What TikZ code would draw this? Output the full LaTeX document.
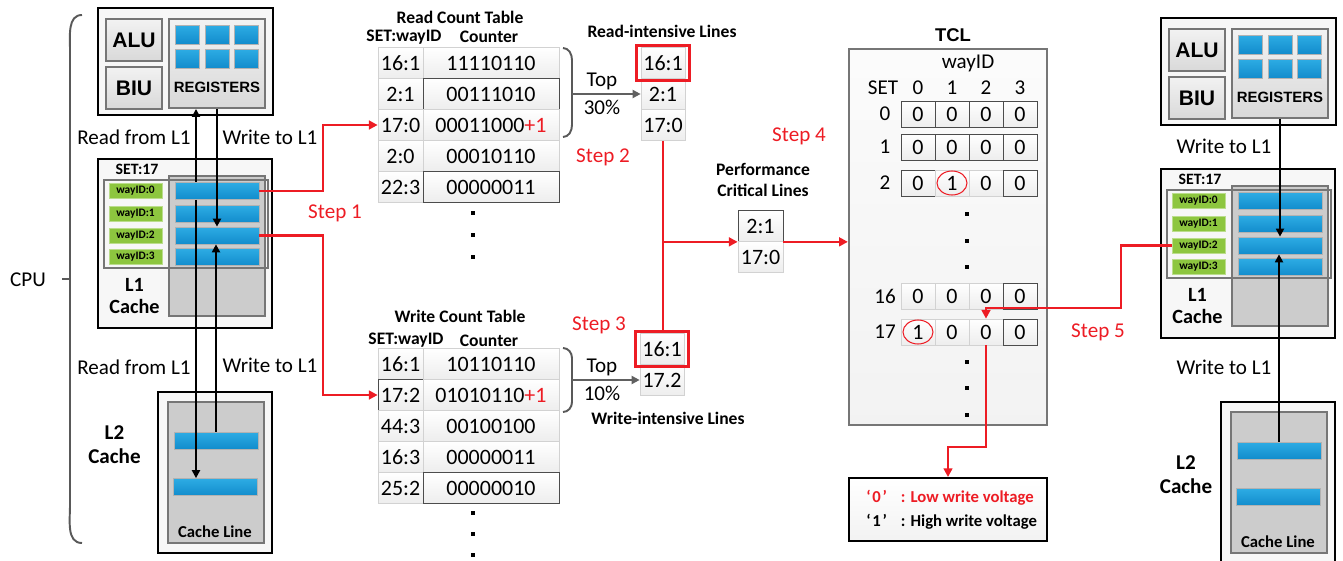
\documentclass[tikz,border=0pt]{standalone}
\usepackage{fontspec}
\setmainfont{Carlito}
\newfontfamily\arialfont{Liberation Sans}
\usetikzlibrary{arrows.meta, positioning, calc, fit}

\definecolor{stepred}{RGB}{237,28,36}
\definecolor{lineblue}{RGB}{45,172,228}
\definecolor{lineblueD}{RGB}{18,140,204}
\definecolor{waygreen}{RGB}{141,198,63}
\definecolor{unitgray}{RGB}{204,204,204}
\definecolor{framegray}{RGB}{118,118,118}

\newlength{\upx}
\setlength{\upx}{0.02cm}
\newcommand{\plusone}{\textcolor{stepred}{+1}}

% one processor: core, L1 set and L2; #1 name prefix, #2/#3 offset
\newcommand{\cpustack}[3]{%
  % core with ALU, BIU and register file
  \node[cpubox, fit={(98+#2,8+#3) (273+#2,115+#3)}] (#1cpu) {};
  \node[unitbox, fit={(106+#2,19+#3) (162+#2,61+#3)}] (#1alu) {};
  \node[unitlabel] (#1alutxt) at (#1alu.center) {ALU};
  \node[unitbox, fit={(106+#2,67+#3) (162+#2,109+#3)}] (#1biu) {};
  \node[unitlabel] (#1biutxt) at (#1biu.center) {BIU};
  \node[unitbox, fit={(169+#2,19+#3) (265+#2,108+#3)}] (#1regs) {};
  \foreach \cx in {175,205,234}
    \foreach \cy in {25,49}
      \draw[regcell] (\cx+#2,\cy+#3) rectangle ++(24,19);
  \node[font=\arialfont\bfseries\fontsize{8.5}{10}\selectfont] (#1regtxt) at (217+#2,87+#3) {REGISTERS};
  % L1 cache, set 17
  \node[cpubox, fit={(98+#2,159+#3) (272+#2,328+#3)}] (#1l1) {};
  \node[font=\bfseries\fontsize{9}{10}\selectfont] (#1set) at (137+#2,169+#3) {SET:17};
  \node[colbox, fit={(169+#2,176+#3) (265+#2,316+#3)}] (#1col) {};
  \node[wayframe, fit={(104+#2,180+#3) (268+#2,268+#3)}] (#1ways) {};
  \foreach \i/\yy in {0/191,1/214,2/235.5,3/257}{
    \node[waytag] (#1way\i) at (135.5+#2,\yy+#3) {wayID:\i};
    \node[cacheline] (#1bar\i) at (217+#2,\yy+#3) {};
  }
  \node[boldlabel] (#1l1txt) at (134.5+#2,296+#3) {L1\\Cache};
  % L2 cache
  \node[cpubox, fit={(158+#2,392+#3) (272+#2,553+#3)}] (#1l2) {};
  \node[colbox, fit={(168+#2,402+#3) (264+#2,543+#3)}] (#1l2in) {};
  \node[cacheline] (#1c1) at (216+#2,440.5+#3) {};
  \node[cacheline] (#1c2) at (215+#2,487+#3) {};
  \node[font=\bfseries\fontsize{9.5}{11}\selectfont] (#1ltxt) at (215+#2,532+#3) {Cache Line};
}

\begin{document}
\begin{tikzpicture}[
    x=0.02cm, y=-0.02cm,
    font=\fontsize{12}{14}\selectfont,
    % processor blocks
    cpubox/.style={draw=black, line width=1.1pt, fill=gray!6, inner sep=0pt},
    unitbox/.style={draw=framegray, line width=1.1pt, top color=gray!10, bottom color=gray!30, inner sep=0pt},
    colbox/.style={draw=framegray, line width=1.1pt, fill=unitgray, inner sep=0pt},
    wayframe/.style={draw=framegray, line width=1.1pt, inner sep=0pt},
    regcell/.style={draw=gray!60, top color=lineblue, bottom color=lineblueD},
    cacheline/.style={draw=gray!60, top color=lineblue, bottom color=lineblueD, minimum width=84\upx, minimum height=17\upx, inner sep=0pt},
    waytag/.style={fill=waygreen, draw=waygreen!60!white, minimum width=53\upx, minimum height=15\upx, inner sep=0pt, font=\fontsize{6.5}{7}\selectfont\bfseries},
    unitlabel/.style={font=\arialfont\bfseries\fontsize{12}{14}\selectfont},
    boldlabel/.style={font=\bfseries\fontsize{11.5}{12}\selectfont, align=center},
    % tables
    tabtitle/.style={font=\bfseries\fontsize{10}{12}\selectfont},
    tabcell/.style={draw=gray!35, top color=white, bottom color=gray!14, minimum height=31\upx, inner sep=0pt, font=\fontsize{12.5}{14}\selectfont},
    dcell/.style={tabcell, draw=black!70},
    keycol/.style={minimum width=45\upx},
    cntcol/.style={minimum width=136\upx},
    listcol/.style={minimum width=44\upx},
    hotbox/.style={draw=stepred, line width=1.6pt, inner xsep=4\upx, inner ysep=1.5\upx},
    bitcell/.style={tabcell, minimum width=34\upx, minimum height=26\upx},
    dbitcell/.style={bitcell, draw=black!70},
    tclbox/.style={draw=framegray, line width=1.3pt, top color=gray!3, bottom color=gray!10, inner sep=0pt},
    legbox/.style={draw=black, line width=1.1pt, top color=white, bottom color=gray!10, inner sep=0pt},
    legtext/.style={font=\bfseries\fontsize{9.5}{11}\selectfont, inner sep=0pt, anchor=west},
    dotmark/.style={fill=black, minimum size=4\upx, inner sep=0pt},
    steplabel/.style={text=stepred},
    % connectors
    flow/.style={line width=1.1pt, -{Triangle[length=4.5pt, width=4.5pt]}},
    redline/.style={draw=stepred, line width=1.5pt},
    redflow/.style={redline, -{Triangle[length=5pt, width=5pt]}},
    grayflow/.style={draw=gray!75!black, line width=1.1pt, -{Triangle[length=4.5pt, width=4.5pt]}},
    parenline/.style={draw=gray!70!black, line width=1.1pt}
  ]
  \useasboundingbox (0,0) rectangle (1343,561);

  % --- LEFT: CPU WITH L1 AND L2 ---
  \cpustack{L}{0}{0}
  \draw[parenline] (82,15) to[out=180,in=90] (70,50) -- (70,505) to[out=-90,in=180] (82,543);
  \draw[parenline] (62,279) -- (70,279);
  \node (cpu) at (28,280) {CPU};
  \node (rdL1a) at (134,137) {Read from L1};
  \node (wrL1a) at (270,137) {Write to L1};
  \node (rdL1b) at (134,367) {Read from L1};
  \node (wrL1b) at (270,365) {Write to L1};
  \node[boldlabel, font=\bfseries\fontsize{12}{14}\selectfont] (Ll2txt) at (114.5,444.5) {L2\\Cache};

  % read and write paths between registers, L1 and L2
  \coordinate (rdx) at (196,0);
  \draw[flow] (Lbar0.north -| rdx) -- (Lregs.south -| rdx);
  \draw[flow] (Lbar0.south -| rdx) -- (Lc2.north -| rdx);
  \draw[flow] (Lregs.south) -- (Lregs.south |- Lbar2.north);
  \draw[flow] (Lc1.north) -- (Lc1.north |- Lbar2.south);

  % --- READ COUNT TABLE ---
  \node[tabtitle] (rtitle) at (460,17) {Read Count Table};
  \node[tabtitle] (rhkey) at (404,37) {SET:wayID};
  \node[tabtitle] (rhcnt) at (489,37) {Counter};
  \foreach \k/\v/\ks/\vs [count=\i] in {16:1/11110110/tabcell/tabcell, 2:1/00111010/tabcell/dcell, 17:0/{00011000\plusone}/tabcell/tabcell, 2:0/00010110/tabcell/tabcell, 22:3/00000011/tabcell/dcell}{
    \node[\ks, keycol] (rk\i) at (400.5,{32+31*\i}) {\k};
    \node[\vs, cntcol] (rc\i) at (491,{32+31*\i}) {\v};
  }
  \foreach \yy [count=\i] in {213,235,257}
    \node[dotmark] (rdot\i) at (473,\yy) {};

  % --- WRITE COUNT TABLE ---
  \node[tabtitle] (wtitle) at (460,316) {Write Count Table};
  \node[tabtitle] (whkey) at (406,340) {SET:wayID};
  \node[tabtitle] (whcnt) at (489,341) {Counter};
  \foreach \k/\v/\ks/\vs [count=\i] in {16:1/10110110/tabcell/tabcell, 17:2/{01010110\plusone}/dcell/tabcell, 44:3/00100100/tabcell/tabcell, 16:3/00000011/tabcell/tabcell, 25:2/00000010/tabcell/dcell}{
    \node[\ks, keycol] (wk\i) at (400.5,{333+31*\i}) {\k};
    \node[\vs, cntcol] (wc\i) at (491,{333+31*\i}) {\v};
  }
  \foreach \yy [count=\i] in {513,534,555}
    \node[dotmark] (wdot\i) at (473,\yy) {};

  % Step 1: counters of the accessed lines
  \coordinate (s1x) at (323,0);
  \draw[redflow] (Lbar0.east) -- (Lbar0.east -| s1x) |- (rk3.west);
  \draw[redflow] (Lbar2.east) -- (Lbar2.east -| s1x) |- (wk2.west);
  \node[steplabel] (step1) at (335,213) {Step 1};

  % --- TOP LINES ---
  \draw[parenline] (563,48) to[out=0,in=90] (572,60) -- (572,125) to[out=-90,in=0] (563,137);
  \draw[parenline] (563,348) to[out=0,in=90] (572,358) -- (572,402) to[out=-90,in=0] (563,412);
  \node[tabtitle] (rititle) at (662,31) {Read-intensive Lines};
  \foreach \k [count=\i] in {16:1,2:1,17:0}
    \node[tabcell, listcol] (ri\i) at (663,{32+31*\i}) {\k};
  \node[hotbox, fit=(ri1)] (rihot) {};
  \node[tabtitle] (wititle) at (668,418) {Write-intensive Lines};
  \foreach \k [count=\i] in {16:1,17.2}
    \node[tabcell, listcol] (wi\i) at (662,{318+31*\i}) {\k};
  \node[hotbox, fit=(wi1)] (wihot) {};
  \coordinate (rtop) at (572,94);
  \coordinate (wtop) at (572,380);
  \draw[grayflow] (rtop) -- (ri2.west);
  \draw[grayflow] (wtop) -- (wi2.west);
  \node (rtopa) at (602,81) {Top};
  \node (rtopb) at (602,107) {30\%};
  \node (wtopa) at (602,367) {Top};
  \node (wtopb) at (602,393) {10\%};
  \node[steplabel] (step2) at (603,157) {Step 2};
  \node[steplabel] (step3) at (599,325) {Step 3};

  % --- PERFORMANCE CRITICAL LINES ---
  \node[tabtitle, align=center] (pctitle) at (763,180) {Performance\\Critical Lines};
  \node[dcell, keycol] (pc1) at (760.5,226) {2:1};
  \node[tabcell, keycol] (pc2) at (760.5,257) {17:0};
  \draw[redline] (ri3.south) -- (ri3.south |- wihot.north);
  \draw[redflow] (ri3.south |- pc1.south) -- (pc1.south west);
  \node[steplabel] (step4) at (799,136) {Step 4};

  % --- TCL ---
  \node[tclbox, fit={(849,49) (1047,425)}] (tcl) {};
  \draw[redflow] (pc1.south east) -- (pc1.south east -| tcl.west);
  \node[font=\arialfont\bfseries\fontsize{10.5}{12}\selectfont] (tcltitle) at (953,35) {TCL};
  \node (tclway) at (968,63) {wayID};
  \node (tclset) at (883,88) {SET};
  \foreach \cl/\xx in {0/918,1/952,2/986,3/1020}
    \node (tclh\cl) at (\xx,88) {\cl};
  \foreach \rw/\yy in {0/114,1/147,2/183,16/296,17/332}{
    \node (tcls\rw) at (885,\yy) {\rw};
    \foreach \cl/\xx in {0/918,1/952,2/986,3/1020}{
      \pgfmathtruncatemacro\dk{(\rw<2)||(\cl==3)||((\rw==2)&&(\cl==0))}
      \pgfmathtruncatemacro\hit{((\rw==2)&&(\cl==1))||((\rw==17)&&(\cl==0))}
      \ifnum\dk=1 \def\sty{dbitcell}\else\def\sty{bitcell}\fi
      \node[\sty] (t\rw c\cl) at (\xx,\yy) {\hit};
    }
  }
  \draw[stepred, line width=0.6pt] (t2c1) ellipse [x radius=15, y radius=12];
  \draw[stepred, line width=0.6pt] (t17c0) ellipse [x radius=15, y radius=12];
  \foreach \yy [count=\i] in {214,241,267,362,388,415}
    \node[dotmark] (tdot\i) at (967,\yy) {};

  % legend for the write voltage
  \node[legbox, fit={(849,478) (1047,541)}] (legend) {};
  \node[legtext, text=stepred] (leg0) at (866,498) {‘\hspace{1pt}0\hspace{1pt}’\hspace{8pt}: Low write voltage};
  \node[legtext] (leg1) at (866,522) {‘\hspace{1pt}1\hspace{1pt}’\hspace{8pt}: High write voltage};
  \coordinate (lgx) at (948,447);
  \draw[redflow] (t17c2.south) |- (lgx) -- (lgx |- legend.north);

  % --- RIGHT: CPU WITH L1 AND L2 ---
  \cpustack{R}{1063}{10}
  \node (wrL1c) at (1224,146) {Write to L1};
  \node (wrL1d) at (1224,367) {Write to L1};
  \node[boldlabel, font=\bfseries\fontsize{12}{14}\selectfont] (Rl2txt) at (1186,474.5) {L2\\Cache};
  \draw[flow] (Rregs.south) -- (Rregs.south |- Rbar2.north);
  \draw[flow] (Rc1.north) -- (Rc1.north |- Rbar2.south);

  % Step 5: level of the line to be written
  \coordinate (s5x) at (1121,308);
  \draw[redflow] (Rway2.west) -| (s5x) -| (t17c2.north);
  \node[steplabel] (step5) at (1098,332) {Step 5};
\end{tikzpicture}
\end{document}
